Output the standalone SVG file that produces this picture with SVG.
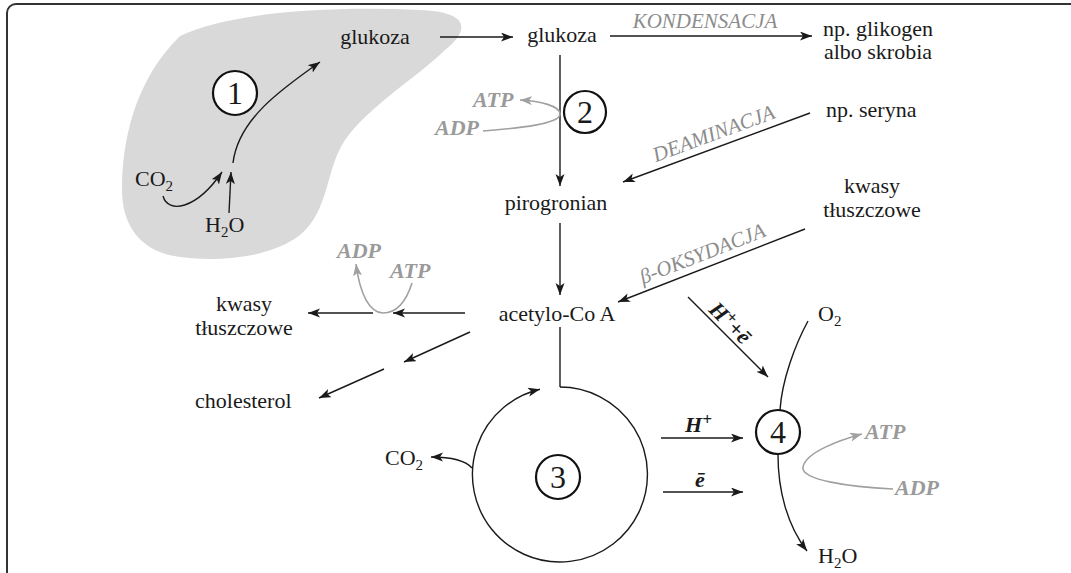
<svg xmlns="http://www.w3.org/2000/svg" width="1071" height="573" viewBox="0 0 1071 573">
<style>
text{font-family:"Liberation Serif","Times New Roman",serif;font-size:22px;fill:#1a1a1a}
.c{text-anchor:middle}
.g{fill:#8c8c8c;font-style:italic;font-size:21px}
.gb{fill:#9a9a9a;font-style:italic;font-weight:bold;font-size:22px}
.bi{font-style:italic;font-weight:bold}
.num{font-size:32px;text-anchor:middle}
.ln{fill:none;stroke:#1a1a1a;stroke-width:1.4}
.gl{fill:none;stroke:#a0a0a0;stroke-width:1.6}
.ring{fill:#fff;stroke:#111;stroke-width:2.2}
</style>
<defs>
<marker id="a" markerUnits="userSpaceOnUse" markerWidth="13" markerHeight="10" refX="12" refY="4.5" orient="auto">
<path d="M0,0 L12,4.5 L0,9 L3,4.5 Z" fill="#1a1a1a"/>
</marker>
<marker id="ag" markerUnits="userSpaceOnUse" markerWidth="13" markerHeight="10" refX="12" refY="4.5" orient="auto">
<path d="M0,0 L12,4.5 L0,9 L3,4.5 Z" fill="#a0a0a0"/>
</marker>
</defs>
<rect x="7" y="4" width="1100" height="620" rx="9" fill="#fff" stroke="#333" stroke-width="2"/>
<path id="blob" d="M180,36 C230,12 330,6 420,10 C470,12 470,30 445,50 C420,75 370,105 345,140 C325,170 330,210 300,235 C270,258 220,262 180,257 C140,252 122,225 122,190 C122,140 135,80 180,36 Z" fill="#d9d9d9"/>
<g id="connectors">
<path class="ln" d="M440,37 H513" marker-end="url(#a)"/>
<path class="ln" d="M610,36 H812" marker-end="url(#a)"/>
<path class="ln" d="M560,55 V186" marker-end="url(#a)"/>
<path class="ln" d="M560,223 V295" marker-end="url(#a)"/>
<path class="ln" d="M810,113 L623,182" marker-end="url(#a)"/>
<path class="ln" d="M805,229 L618,302" marker-end="url(#a)"/>
<path class="ln" d="M688,297 L768,377" marker-end="url(#a)"/>
<path class="ln" d="M233,163 C238,120 280,90 320,62" marker-end="url(#a)"/>
<path class="ln" d="M163,196 C168,214 196,210 222,172" marker-end="url(#a)"/>
<path class="ln" d="M229,213 L231,172" marker-end="url(#a)"/>
<path class="ln" d="M465,313 H393" marker-end="url(#a)"/>
<path class="ln" d="M373,313 H308" marker-end="url(#a)"/>
<path class="ln" d="M470,332 L404,362" marker-end="url(#a)"/>
<path class="ln" d="M384,369 L319,398" marker-end="url(#a)"/>
<path class="ln" d="M560,327 V387"/>
<path class="ln" d="M560,387 A87.5,87.5 0 1 1 540,389.3" marker-end="url(#a)"/>
<path class="ln" d="M472,468 C465,460 450,457 431,457" marker-end="url(#a)"/>
<path class="ln" d="M661,438 H743" marker-end="url(#a)"/>
<path class="ln" d="M663,492 H743" marker-end="url(#a)"/>
<path class="ln" d="M808,321 C795,345 782,380 780,410"/>
<path class="ln" d="M778,455 C778,490 787,525 807,551" marker-end="url(#a)"/>
<path class="gl" d="M483,131 C520,128 560,124 560,114 C560,106 540,101 520,100" marker-end="url(#ag)"/>
<path class="gl" d="M412,283 C405,305 395,313 383,313 C370,313 360,295 356,264" marker-end="url(#ag)"/>
<path class="gl" d="M893,489 C850,487 800,480 803,467 C806,452 840,440 862,434" marker-end="url(#ag)"/>
</g>
<g id="n1"><circle class="ring" cx="235" cy="93" r="22"/><text class="num" x="235" y="104">1</text></g>
<g id="n2"><circle class="ring" cx="585" cy="112" r="21"/><text class="num" x="585" y="123">2</text></g>
<g id="n3"><circle class="ring" cx="558" cy="477" r="22"/><text class="num" x="558" y="488">3</text></g>
<g id="n4"><circle class="ring" cx="778" cy="432" r="22"/><text class="num" x="778" y="443">4</text></g>
<g id="glukoza1"><text class="c" x="375" y="44">glukoza</text></g>
<g id="glukoza2"><text class="c" x="562" y="42">glukoza</text></g>
<g id="kondensacja"><text class="c g" x="705" y="28">KONDENSACJA</text></g>
<g id="glikogen"><text class="c" x="878" y="36">np. glikogen</text><text class="c" x="878" y="59">albo skrobia</text></g>
<g id="seryna"><text x="826" y="117">np. seryna</text></g>
<g id="deaminacja"><text class="c g" x="716" y="140" transform="rotate(-20.3 716 140)">DEAMINACJA</text></g>
<g id="pirogronian"><text class="c" x="556" y="210">pirogronian</text></g>
<g id="kwasy2"><text class="c" x="872" y="193">kwasy</text><text class="c" x="872" y="217">tłuszczowe</text></g>
<g id="boksydacja"><text class="c g" x="705" y="260" transform="rotate(-21.3 705 260)">β-OKSYDACJA</text></g>
<g id="acetylo"><text class="c" x="557" y="321">acetylo-Co A</text></g>
<g id="kwasy1"><text class="c" x="244" y="311">kwasy</text><text class="c" x="244" y="335">tłuszczowe</text></g>
<g id="cholesterol"><text x="195" y="408">cholesterol</text></g>
<g id="co2a"><text x="135" y="186">CO<tspan font-size="15" dy="5">2</tspan></text></g>
<g id="h2oa"><text x="205" y="232">H<tspan font-size="15" dy="5">2</tspan><tspan dy="-5">O</tspan></text></g>
<g id="atp2"><text class="gb" x="473" y="107">ATP</text><text class="gb" x="435" y="135">ADP</text></g>
<g id="atp1"><text class="gb" x="337" y="258">ADP</text><text class="gb" x="390" y="278">ATP</text></g>
<g id="he"><text class="c bi" x="725" y="328" transform="rotate(45 725 328)">H<tspan font-size="17" dy="-7">+</tspan><tspan dy="7">+ē</tspan></text></g>
<g id="o2"><text x="818" y="321">O<tspan font-size="15" dy="5">2</tspan></text></g>
<g id="hplus"><text class="bi" x="685" y="432">H<tspan font-size="17" dy="-7">+</tspan></text></g>
<g id="eminus"><text class="bi" x="695" y="487">ē</text></g>
<g id="atp4"><text class="gb" x="865" y="439">ATP</text><text class="gb" x="895" y="495">ADP</text></g>
<g id="co2b"><text x="385" y="465">CO<tspan font-size="15" dy="5">2</tspan></text></g>
<g id="h2ob"><text x="818" y="563">H<tspan font-size="15" dy="5">2</tspan><tspan dy="-5">O</tspan></text></g>
</svg>
